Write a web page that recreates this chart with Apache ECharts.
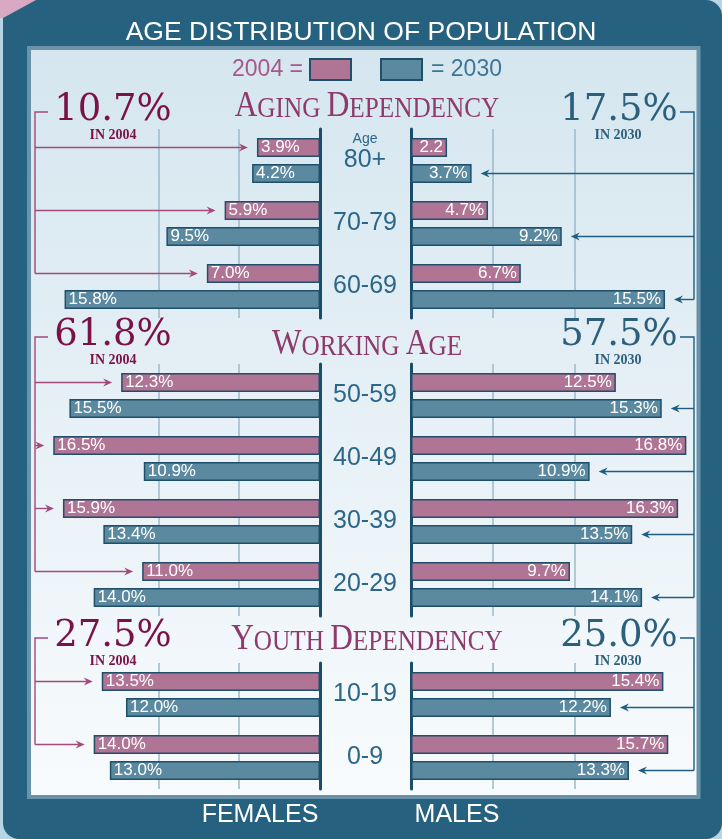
<!DOCTYPE html>
<html>
<head>
<meta charset="utf-8">
<script src="https://cdn.jsdelivr.net/npm/echarts@6/dist/echarts.min.js"></script>
<style>
  html, body { margin: 0; padding: 0; background: #b6d5e5; }
  #main { width: 722px; height: 839px; }
</style>
</head>
<body>
<div id="main"></div>
<script>
// ---- data ----
const ages = ['80+', '70-79', '60-69', '50-59', '40-49', '30-39', '20-29', '10-19', '0-9'];
const groupNames = ['AGING DEPENDENCY', 'WORKING AGE', 'YOUTH DEPENDENCY'];
const groupSizes = [3, 4, 2];
const female2004 = [3.9, 5.9, 7.0, 12.3, 16.5, 15.9, 11.0, 13.5, 14.0];
const female2030 = [4.2, 9.5, 15.8, 15.5, 10.9, 13.4, 14.0, 12.0, 13.0];
const male2004 = [2.2, 4.7, 6.7, 12.5, 16.8, 16.3, 9.7, 15.4, 15.7];
const male2030 = [3.7, 9.2, 15.5, 15.3, 10.9, 13.5, 14.1, 12.2, 13.3];
const share2004 = ['10.7%', '61.8%', '27.5%'];
const share2030 = ['17.5%', '57.5%', '25.0%'];
const noPercent = ['M2004|80+']; // label printed without % in the original

// ---- look ----
const PINK = '#b07494', TEAL = '#5b8aa0', EDGE = '#1f4f6a';
const WINE = '#7a1248', DEEP = '#2b5f7c', HEAD = '#8e3a6c', AGEC = '#2c6688';
const GRIDC = '#9db9ca', CLEAR = 'rgba(0,0,0,0)';
const barW = 19, pairGap = 7, rowH = 63;
const groupTop = [129, 364, 663];
const headY = [107, 345, 640];
const shareY = [110, 335, 636];
const sans = 'Liberation Sans', serif = 'Liberation Serif';

const chart = echarts.init(document.getElementById('main'));

function barLabel(side, year) {
  return p => {
    const t = p.value.toFixed(1);
    return noPercent.indexOf(side + year + '|' + p.name) >= 0 ? t : t + '%';
  };
}

const grids = [], xAxes = [], yAxes = [], series = [];
let start = 0;
groupSizes.forEach((n, g) => {
  const cats = ages.slice(start, start + n);
  ['F', 'M'].forEach((side, s) => {
    const idx = g * 2 + s;
    const female = side === 'F';
    grids.push(female
      ? { left: 29, width: 291, top: groupTop[g], height: n * rowH }
      : { left: 411, width: 295, top: groupTop[g], height: n * rowH });
    xAxes.push({
      type: 'value', gridIndex: idx, min: 0, max: 18, interval: 5, inverse: female,
      axisLine: { show: false }, axisTick: { show: false }, axisLabel: { show: false },
      splitLine: { show: true, lineStyle: { color: [CLEAR, GRIDC, GRIDC, CLEAR, CLEAR], width: 1.5 } }
    });
    yAxes.push({
      type: 'category', gridIndex: idx, data: cats, inverse: true,
      position: female ? 'right' : 'left',
      axisLine: { show: true, lineStyle: { color: '#1a4d6a', width: 3 } },
      axisTick: { show: false },
      axisLabel: {
        show: !female, margin: 46, align: 'center',
        fontSize: 25, color: AGEC, fontFamily: sans
      }
    });
    [['2004', female ? female2004 : male2004, PINK], ['2030', female ? female2030 : male2030, TEAL]]
      .forEach(([year, arr, col]) => {
        series.push({
          type: 'bar', name: year, xAxisIndex: idx, yAxisIndex: idx,
          data: arr.slice(start, start + n),
          barWidth: barW, barGap: Math.round(pairGap / barW * 100) + '%',
          itemStyle: { color: col, borderColor: EDGE, borderWidth: 1.5 },
          label: {
            show: true, position: female ? 'insideLeft' : 'insideRight', distance: 4,
            color: '#fff', fontSize: 17, fontFamily: sans,
            formatter: barLabel(side, year)
          },
          silent: true
        });
      });
  });
  start += n;
});

chart.setOption({
  animation: false,
  title: {
    text: 'AGE DISTRIBUTION OF POPULATION', left: 'center', top: 14,
    textStyle: { color: '#fff', fontSize: 26.5, fontWeight: 'normal', fontFamily: sans }
  },
  legend: [
    { data: ['2004'], right: 370, top: 58, padding: 0, align: 'right', icon: 'rect', itemWidth: 41, itemHeight: 21,
      formatter: () => '2004 =', selectedMode: false,
      textStyle: { color: '#a8578a', fontSize: 23, fontFamily: sans, padding: [0, 2, 0, 0] } },
    { data: ['2030'], left: 380, top: 58, padding: 0, align: 'left', icon: 'rect', itemWidth: 41, itemHeight: 21,
      formatter: () => '= 2030', selectedMode: false,
      textStyle: { color: '#3d7595', fontSize: 23, fontFamily: sans, padding: [0, 0, 0, 4] } }
  ],
  grid: grids, xAxis: xAxes, yAxis: yAxes, series: series
});

// ---- decorations placed from the axes ----
const pinkDy = -(barW + pairGap) / 2, tealDy = (barW + pairGap) / 2;
const gfx = [
  { type: 'rect', z: -10, shape: { x: 3, y: 0, width: 719, height: 839, r: [0, 16, 16, 16] }, style: { fill: '#266280' } },
  { type: 'polygon', z: -9, shape: { points: [[0, 0], [36, 0], [3, 18], [0, 18]] }, style: { fill: '#d9a9c3' } },
  { type: 'rect', z: -8, shape: { x: 29, y: 48, width: 669.5, height: 749 },
    style: { stroke: '#6a93aa', lineWidth: 4,
      fill: new echarts.graphic.LinearGradient(0, 0, 0, 1, [{ offset: 0, color: '#d5e6ef' }, { offset: 1, color: '#f8fbfd' }]) } },
  { type: 'text', z: 10, x: 365, y: 139, style: { text: 'Age', fontSize: 14, fontFamily: sans, fill: AGEC, align: 'center', verticalAlign: 'middle' } },
  { type: 'text', z: 10, x: 260, y: 815, style: { text: 'FEMALES', fontSize: 25, fontFamily: sans, fill: '#fff', align: 'center', verticalAlign: 'middle' } },
  { type: 'text', z: 10, x: 457, y: 815, style: { text: 'MALES', fontSize: 25, fontFamily: sans, fill: '#fff', align: 'center', verticalAlign: 'middle' } }
];

function smallCaps(s) {
  return s.split(' ').map(w => '{b|' + w[0] + '}{s|' + w.slice(1) + '}').join('{s| }');
}
function line(pts, col) {
  return { type: 'polyline', z: 10, shape: { points: pts }, style: { stroke: col, lineWidth: 1.4, fill: null } };
}
function head(tx, y, dir, col) {
  const pts = [[tx, y], [tx - 9 * dir, y - 4], [tx - 6 * dir, y], [tx - 9 * dir, y + 4]];
  return { type: 'polygon', z: 10, shape: { points: pts }, style: { fill: col } };
}

start = 0;
groupSizes.forEach((n, g) => {
  gfx.push({
    type: 'text', z: 10, x: 367, y: headY[g], scaleX: 0.87,
    style: {
      text: smallCaps(groupNames[g]), align: 'center', verticalAlign: 'middle',
      rich: {
        b: { fontSize: 36, fontFamily: serif, fill: HEAD, verticalAlign: 'bottom', lineHeight: 36 },
        s: { fontSize: 29, fontFamily: serif, fill: HEAD, verticalAlign: 'bottom', lineHeight: 36, padding: [0, 0, 1, 0] }
      }
    }
  });
  gfx.push({ type: 'text', z: 10, x: 113, y: shareY[g], style: { text: share2004[g], fontSize: 37, fontFamily: 'DejaVu Serif', fill: WINE, align: 'center', verticalAlign: 'middle' } });
  gfx.push({ type: 'text', z: 10, x: 113, y: shareY[g] + 25, style: { text: 'IN 2004', fontSize: 14, fontWeight: 'bold', fontFamily: serif, fill: WINE, align: 'center', verticalAlign: 'middle' } });
  gfx.push({ type: 'text', z: 10, x: 619, y: shareY[g], style: { text: share2030[g], fontSize: 37, fontFamily: 'DejaVu Serif', fill: DEEP, align: 'center', verticalAlign: 'middle' } });
  gfx.push({ type: 'text', z: 10, x: 618, y: shareY[g] + 25, style: { text: 'IN 2030', fontSize: 14, fontWeight: 'bold', fontFamily: serif, fill: DEEP, align: 'center', verticalAlign: 'middle' } });

  const top = shareY[g] + 2;
  let lastL = top, lastR = top;
  for (let i = 0; i < n; i++) {
    const pf = chart.convertToPixel({ gridIndex: g * 2 }, [female2004[start + i], i]);
    const yl = pf[1] + pinkDy, tl = pf[0] - 9;
    gfx.push(line([[35, yl], [tl - 5, yl]], '#a3497c'), head(tl, yl, 1, '#a3497c'));
    lastL = yl;
    const pm = chart.convertToPixel({ gridIndex: g * 2 + 1 }, [male2030[start + i], i]);
    const yr = pm[1] + tealDy, tr = pm[0] + 9;
    gfx.push(line([[694, yr], [tr + 5, yr]], '#1f5e7e'), head(tr, yr, -1, '#1f5e7e'));
    lastR = yr;
  }
  gfx.push(line([[48, top], [35, top], [35, lastL]], '#a3497c'));
  gfx.push(line([[680, top], [694, top], [694, lastR]], '#1f5e7e'));
  start += n;
});

chart.setOption({ graphic: gfx });
</script>
</body>
</html>
